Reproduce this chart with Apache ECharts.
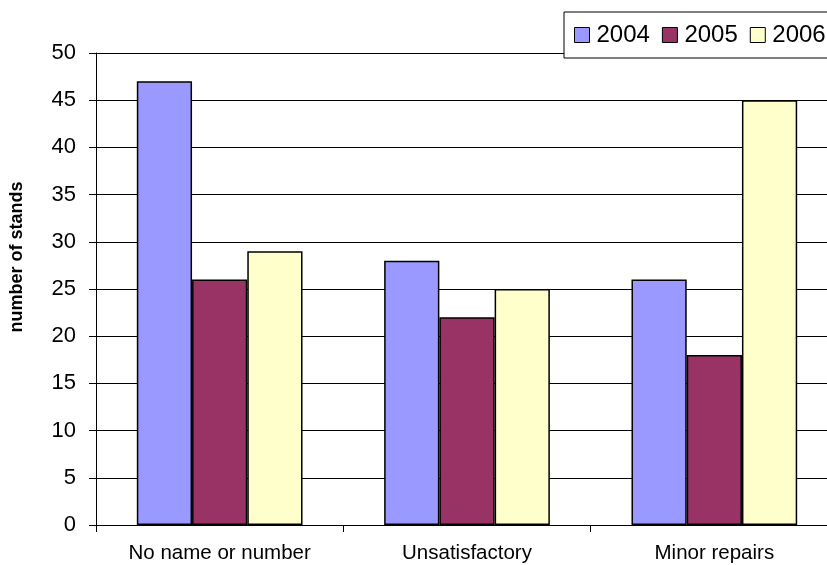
<!DOCTYPE html>
<html>
<head>
<meta charset="utf-8">
<script src="https://cdn.jsdelivr.net/npm/echarts@6/dist/echarts.min.js"></script>
<style>
  html, body { margin: 0; padding: 0; background: #fff; overflow: hidden; }
  /* drawing surface runs a little past the right edge of the window */
  #chart { width: 840px; height: 565px; }
</style>
</head>
<body>
<div id="chart"></div>
<script>
// Stand inspection results by category and year
const categories = ['No name or number', 'Unsatisfactory', 'Minor repairs'];
const years = ['2004', '2005', '2006'];
const values2004 = [47, 28, 26];
const values2005 = [26, 22, 18];
const values2006 = [29, 25, 45];
const yTicks = { min: 0, max: 50, interval: 5 };

const colors = ['#9999FF', '#993366', '#FFFFCC'];
const seriesValues = [values2004, values2005, values2006];

const chart = echarts.init(document.getElementById('chart'), null, { renderer: 'canvas' });

chart.setOption({
  animation: false,
  backgroundColor: '#ffffff',
  textStyle: { fontFamily: 'Liberation Sans, Arial, sans-serif', color: '#000' },
  grid: { left: 95, top: 53, width: 743, height: 472, containLabel: false },
  legend: {
    data: years.map(y => ({ name: y, icon: 'rect' })),
    left: 564,
    top: 12,
    width: 320,
    orient: 'horizontal',
    itemWidth: 15,
    itemHeight: 15,
    itemGap: 12,
    padding: [11, 10, 11, 10],
    backgroundColor: '#ffffff',
    borderColor: '#000000',
    borderWidth: 1,
    borderRadius: 0,
    itemStyle: { borderColor: '#000', borderWidth: 1 },
    textStyle: {
      fontFamily: 'Liberation Sans, Arial, sans-serif',
      fontSize: 24,
      color: '#000',
      lineHeight: 24,
      padding: [0, 0, 0, 2]
    }
  },
  xAxis: {
    type: 'category',
    data: categories,
    boundaryGap: true,
    axisLine: { show: true, lineStyle: { color: '#000', width: 1 } },
    axisTick: { show: true, length: 7, lineStyle: { color: '#000' } },
    axisLabel: {
      fontFamily: 'Liberation Sans, Arial, sans-serif',
      fontSize: 20.5,
      color: '#000',
      margin: 18
    },
    splitLine: { show: false }
  },
  yAxis: {
    type: 'value',
    min: yTicks.min,
    max: yTicks.max,
    interval: yTicks.interval,
    name: 'number of stands',
    nameLocation: 'middle',
    nameGap: 70,
    nameRotate: 90,
    nameTextStyle: {
      fontFamily: 'Liberation Sans, Arial, sans-serif',
      fontWeight: 'bold',
      fontSize: 18,
      color: '#000',
      padding: [0, 0, 0, 64]
    },
    axisLine: { show: true, lineStyle: { color: '#000', width: 1 } },
    axisTick: { show: true, length: 7, lineStyle: { color: '#000' } },
    axisLabel: {
      fontFamily: 'Liberation Sans, Arial, sans-serif',
      fontSize: 22,
      color: '#000',
      margin: 20
    },
    splitLine: { show: true, lineStyle: { color: '#000', width: 1 } }
  },
  series: years.map((y, i) => ({
    name: y,
    type: 'bar',
    data: seriesValues[i],
    barGap: '0%',
    barCategoryGap: '33%',
    itemStyle: { color: colors[i], borderColor: '#000', borderWidth: 1.5 }
  }))
});
</script>
</body>
</html>
